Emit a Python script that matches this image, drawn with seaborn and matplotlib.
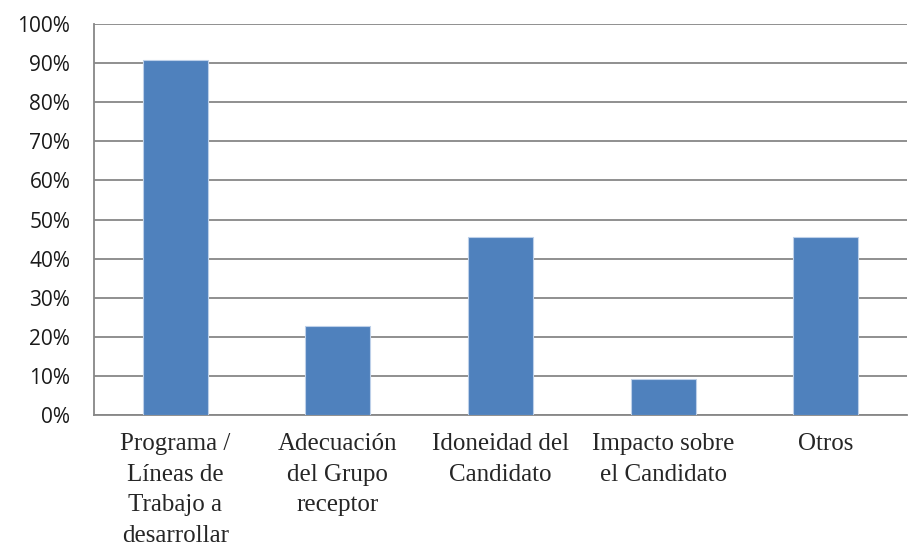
import numpy as np
import pandas as pd
import seaborn as sns
import matplotlib.pyplot as plt
from matplotlib.ticker import PercentFormatter, FixedLocator

# Datos
categorias = [
    "Programa /\nLíneas de\nTrabajo a\ndesarrollar",
    "Adecuación\ndel Grupo\nreceptor",
    "Idoneidad del\nCandidato",
    "Impacto sobre\nel Candidato",
    "Otros",
]
porcentajes = [0.909, 0.227, 0.455, 0.091, 0.455]
ticks_y = [0.0, 0.1, 0.2, 0.3, 0.4, 0.5, 0.6, 0.7, 0.8, 0.9, 1.0]

df = pd.DataFrame({"Categoria": categorias, "Porcentaje": porcentajes})

gris = "#878787"
azul = "#4F81BD"

sns.set_style("white")
fig = plt.figure(figsize=(9.15, 5.47), dpi=100)
ax = fig.add_axes([0.1027, 0.2413, 0.8885, 0.7148])

sns.barplot(data=df, x="Categoria", y="Porcentaje", color=azul, saturation=1,
            width=0.4, edgecolor="#BDD0E9", linewidth=0.8, ax=ax, zorder=3)

ax.set_xlim(-0.5, len(categorias) - 0.5)
ax.set_ylim(0, 1.0)
ax.set_yticks(ticks_y)
ax.yaxis.set_major_formatter(PercentFormatter(1.0, decimals=0))

# lineas de cuadricula horizontales
ax.yaxis.grid(True, color=gris, linewidth=1.3)
ax.set_axisbelow(True)

for lado in ["top", "right"]:
    ax.spines[lado].set_visible(False)
for lado in ["left", "bottom"]:
    ax.spines[lado].set_color(gris)
    ax.spines[lado].set_linewidth(1.3)

ax.set_xlabel("")
ax.set_ylabel("")

# marcas del eje x entre categorias
ax.xaxis.set_minor_locator(FixedLocator(np.arange(-0.5, len(categorias), 1.0)))
ax.tick_params(axis="x", which="major", length=0, pad=13)
ax.tick_params(axis="x", which="minor", length=6, width=1.3, color=gris, direction="out")
ax.tick_params(axis="y", length=6, width=1.3, color=gris, direction="out", pad=11)

for t in ax.get_xticklabels():
    t.set_fontfamily("Liberation Serif")
    t.set_fontsize(18)
    t.set_linespacing(1.5)
for t in ax.get_yticklabels():
    t.set_fontfamily("Open Sans")
    t.set_fontsize(15)
    t.set_color("#1a1a1a")

plt.savefig("out.png", dpi=100)
